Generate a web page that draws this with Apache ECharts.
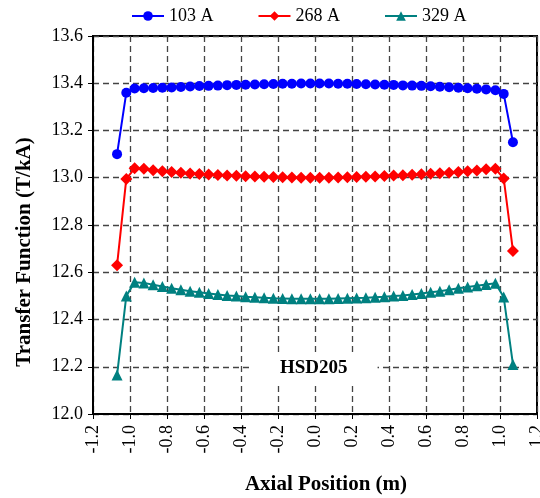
<!DOCTYPE html>
<html>
<head>
<meta charset="utf-8">
<script src="https://cdn.jsdelivr.net/npm/echarts@6/dist/echarts.min.js"></script>
<style>html,body{margin:0;padding:0;background:#fff}#c{width:540px;height:498px}</style>
</head>
<body>
<div id="c"></div>
<script>
var xPos = [-1.07,-1.02,-0.975,-0.925,-0.875,-0.825,-0.775,-0.725,-0.675,-0.625,-0.575,-0.525,-0.475,-0.425,-0.375,-0.325,-0.275,-0.225,-0.175,-0.125,-0.075,-0.025,0.025,0.075,0.125,0.175,0.225,0.275,0.325,0.375,0.425,0.475,0.525,0.575,0.625,0.675,0.725,0.775,0.825,0.875,0.925,0.975,1.02,1.07];
var s103 = [13.10,13.36,13.378,13.379,13.380,13.381,13.382,13.384,13.386,13.388,13.389,13.390,13.392,13.393,13.394,13.395,13.396,13.397,13.398,13.398,13.399,13.399,13.399,13.399,13.398,13.398,13.397,13.396,13.395,13.394,13.393,13.391,13.390,13.389,13.387,13.385,13.383,13.381,13.379,13.377,13.374,13.370,13.355,13.15];
var s268 = [12.63,12.995,13.040,13.038,13.032,13.027,13.024,13.021,13.018,13.016,13.014,13.012,13.010,13.008,13.006,13.005,13.004,13.003,13.002,13.001,13.000,13.000,13.000,13.000,13.001,13.002,13.003,13.004,13.005,13.007,13.009,13.011,13.013,13.015,13.017,13.019,13.021,13.024,13.027,13.031,13.036,13.038,12.997,12.69];
var s329 = [12.165,12.50,12.558,12.555,12.547,12.540,12.532,12.526,12.520,12.515,12.510,12.506,12.502,12.499,12.496,12.494,12.492,12.490,12.489,12.488,12.488,12.488,12.488,12.488,12.489,12.490,12.491,12.492,12.494,12.496,12.499,12.502,12.506,12.510,12.515,12.520,12.526,12.532,12.538,12.543,12.548,12.553,12.495,12.21];
var seriesNames = ['103 A','268 A','329 A'];
var xTitle = 'Axial Position (m)';
var yTitle = 'Transfer Function (T/kA)';
var note = 'HSD205';

function pairs(ys){ return xPos.map(function(x,i){ return [x, ys[i]]; }); }

var font = 'Liberation Serif, Times New Roman, serif';
var chart = echarts.init(document.getElementById('c'), null, {renderer:'canvas'});
var gridStyle = {show:true, lineStyle:{color:'#444', width:1.3, type:[6,4]}};
chart.setOption({
  animation:false,
  backgroundColor:'#fff',
  textStyle:{fontFamily:font},
  legend:{
    top:2, left:126, itemGap:44, itemWidth:32, itemHeight:12,
    textStyle:{fontFamily:font, fontSize:18, color:'#000'},
    data:seriesNames
  },
  grid:{left:93, right:3, top:36, bottom:84, show:true, borderColor:'#000', borderWidth:2,
    containLabel:false, outerBoundsMode:'none'},
  xAxis:{
    type:'value', min:-1.2, max:1.2, interval:0.2,
    axisLine:{show:true, onZero:false, lineStyle:{color:'#000', width:2}},
    axisTick:{show:true, inside:false, length:5, lineStyle:{color:'#000', width:1}},
    axisLabel:{rotate:90, margin:11, fontFamily:font, fontSize:18, color:'#000',
      formatter:function(v){ return v.toFixed(1); }},
    splitLine:gridStyle,
    name:xTitle, nameLocation:'middle', nameGap:60,
    nameTextStyle:{fontFamily:font, fontSize:21, fontWeight:'bold', color:'#000', padding:[0,0,0,22]}
  },
  yAxis:{
    type:'value', min:12.0, max:13.6, interval:0.2,
    axisLine:{show:true, onZero:false, lineStyle:{color:'#000', width:2}},
    axisTick:{show:true, inside:false, length:5, lineStyle:{color:'#000', width:1}},
    axisLabel:{margin:10, fontFamily:font, fontSize:18, color:'#000',
      formatter:function(v){ return v.toFixed(1); }},
    splitLine:gridStyle,
    name:yTitle, nameLocation:'middle', nameGap:58, nameRotate:90,
    nameTextStyle:{fontFamily:font, fontSize:21, fontWeight:'bold', color:'#000', padding:[0,54,0,0]}
  },
  graphic:[{
    type:'text', left:250, top:354, z:5,
    style:{text:note, font:'bold 19px '+font, fill:'#000', backgroundColor:'#fff',
      padding:[5,30,5,30]}
  }],
  series:[
    {name:seriesNames[0], type:'line', data:pairs(s103), symbol:'circle', symbolSize:10,
      itemStyle:{color:'#0000ff'}, lineStyle:{color:'#0000ff', width:2}, z:3},
    {name:seriesNames[1], type:'line', data:pairs(s268), symbol:'diamond', symbolSize:12,
      itemStyle:{color:'#ff0000'}, lineStyle:{color:'#ff0000', width:2}, z:3},
    {name:seriesNames[2], type:'line', data:pairs(s329), symbol:'triangle', symbolSize:11,
      itemStyle:{color:'#008080'}, lineStyle:{color:'#008080', width:2}, z:3}
  ]
});
</script>
</body>
</html>
